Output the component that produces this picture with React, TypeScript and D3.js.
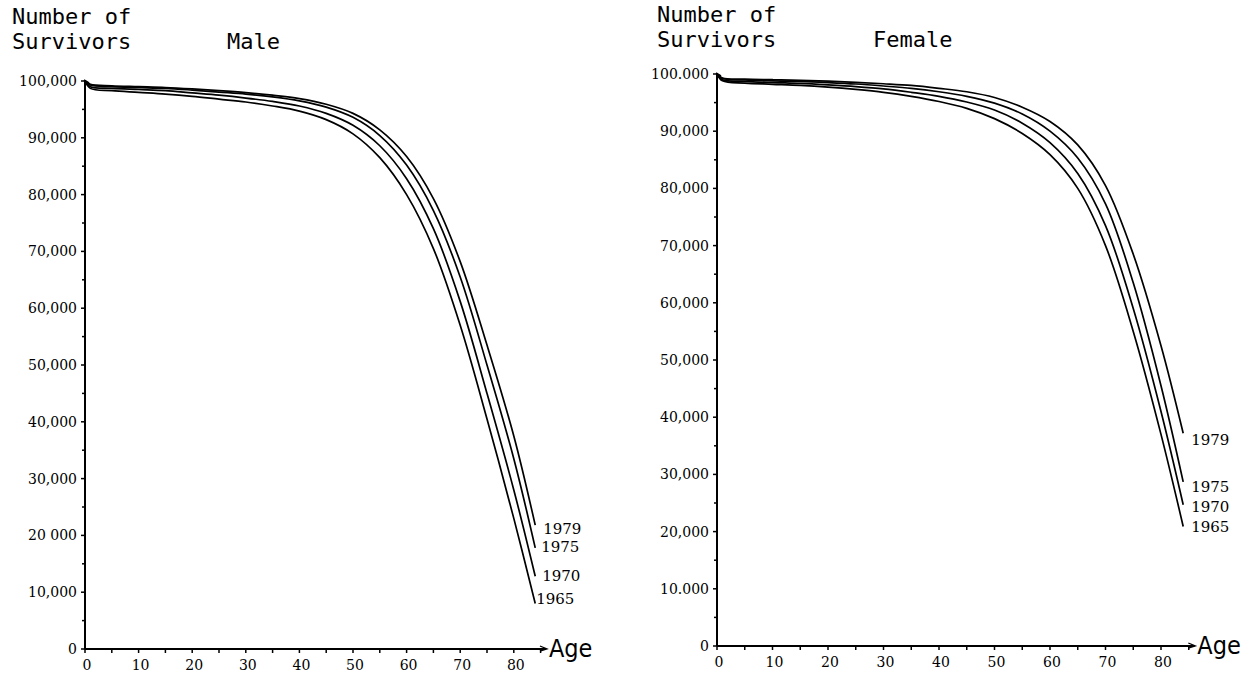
import React from "react";
import * as d3 from "d3";

// ages at which the life-table values are read
const ages = [0, 1, 5, 10, 15, 20, 25, 30, 35, 40, 45, 50, 55, 60, 65, 70, 75, 80, 84];
const years = ["1965", "1970", "1975", "1979"];

// male survivors (per 100,000 born)
const male1965 = [100000, 98700, 98300, 98000, 97700, 97300, 96800, 96300, 95600, 94700, 93200, 90700, 86500, 80000, 70500, 57000, 40500, 23000, 8000];
const male1970 = [100000, 99000, 98700, 98500, 98300, 97900, 97500, 97000, 96400, 95600, 94300, 92200, 88600, 82800, 74000, 61200, 45000, 28000, 12800];
const male1975 = [100000, 99300, 99000, 98850, 98700, 98400, 98050, 97700, 97200, 96500, 95400, 93600, 90400, 85200, 77200, 65500, 50000, 33500, 17800];
const male1979 = [100000, 99400, 99150, 99000, 98850, 98600, 98300, 97950, 97500, 96900, 95900, 94300, 91400, 86700, 79300, 68200, 53500, 37500, 21800];

// female survivors
const female1965 = [100000, 98800, 98400, 98200, 98000, 97700, 97300, 96800, 96100, 95200, 94000, 92200, 89600, 85900, 80000, 70000, 55000, 37000, 20900];
const female1970 = [100000, 99000, 98700, 98500, 98350, 98100, 97800, 97400, 96800, 96100, 95100, 93700, 91400, 88000, 82600, 73500, 59000, 41000, 24700];
const female1975 = [100000, 99200, 98950, 98800, 98700, 98500, 98250, 97900, 97500, 96900, 96100, 94900, 93000, 90000, 85300, 77300, 63500, 45500, 28700];
const female1979 = [100000, 99300, 99100, 99000, 98900, 98750, 98550, 98300, 98000, 97500, 96900, 95900, 94200, 91700, 87600, 80500, 68500, 52500, 37200];

const maleYLabels = ["0", "10,000", "20 000", "30,000", "40,000", "50,000", "60,000", "70,000", "80,000", "90,000", "100,000"];
const femaleYLabels = ["0", "10.000", "20,000", "30,000", "40,000", "50,000", "60,000", "70,000", "80,000", "90,000", "100.000"];
const xTickLabels = ["0", "10", "20", "30", "40", "50", "60", "70", "80"];

const serif = "'DejaVu Serif', 'Liberation Serif', serif";
const mono = "'DejaVu Sans Mono', 'Liberation Mono', monospace";

function Panel(props: any) {
  const { x0, perYear, y0, y100, series, yLabels, title, titleX, titleY, labelOffsets } = props;
  const x = d3.scaleLinear().domain([0, 86]).range([x0, x0 + 86 * perYear]);
  const y = d3.scaleLinear().domain([0, 100000]).range([y0, y100]);
  const line = d3.line<number>()
    .x((d, i) => x(ages[i]))
    .y(d => y(d))
    .curve(d3.curveCatmullRom.alpha(0.5));

  const yTicks = d3.range(0, 100001, 5000);
  const xTicks = d3.range(0, 86, 5);
  const last = ages.length - 1;
  const xEnd = x(86);

  return (
    <g>
      <text x={titleX} y={titleY} fontFamily={mono} fontSize={22}>Number of</text>
      <text x={titleX} y={titleY + 25} fontFamily={mono} fontSize={22}>Survivors</text>
      <text x={titleX + title.dx} y={titleY + 25} fontFamily={mono} fontSize={22}>{title.text}</text>

      {/* axes */}
      <line x1={x0} x2={x0} y1={y0} y2={y100 - 1} stroke="#000" strokeWidth={2} />
      <line x1={x0 - 1} x2={x0 + 4} y1={y100 - 1} y2={y100 + 2} stroke="#000" strokeWidth={1.5} />
      <line x1={x0} x2={xEnd} y1={y0} y2={y0} stroke="#000" strokeWidth={2} />
      <path d={`M${xEnd - 6},${y0 - 3}L${xEnd + 1},${y0}L${xEnd - 6},${y0 + 2}`} fill="none" stroke="#000" strokeWidth={1.3} />
      <text x={xEnd + 3} y={y0 + 8} fontFamily="'DejaVu Sans Condensed', 'Liberation Sans Narrow', sans-serif" fontSize={25}>Age</text>

      {yTicks.map(v => (
        <line key={"yt" + v} x1={x0 - (v % 10000 === 0 ? 4 : 3)} x2={x0} y1={y(v)} y2={y(v)} stroke="#000" strokeWidth={1.5} />
      ))}
      {yLabels.map((s: string, i: number) => (
        <text key={"yl" + i} x={x0 - 8} y={y(i * 10000) + 5} textAnchor="end" fontFamily={serif} fontSize={14}>{s}</text>
      ))}
      {xTicks.map(v => (
        <line key={"xt" + v} x1={x(v)} x2={x(v)} y1={y0} y2={y0 + 4} stroke="#000" strokeWidth={1.5} />
      ))}
      {xTickLabels.map((s, i) => (
        <text key={"xl" + i} x={x(i * 10) + 2} y={y0 + 21} textAnchor="middle" fontFamily={serif} fontSize={14}>{s}</text>
      ))}

      {series.map((vals: number[], k: number) => (
        <path key={"s" + k} d={line(vals) || ""} fill="none" stroke="#000" strokeWidth={1.7} />
      ))}
      {series.map((vals: number[], k: number) => (
        <text key={"lab" + k} x={x(ages[last]) + labelOffsets[k][0]} y={y(vals[last]) + labelOffsets[k][1]}
          fontFamily={serif} fontSize={15}>{years[k]}</text>
      ))}
    </g>
  );
}

export default function App() {
  return (
    <svg width={1246} height={678} style={{ position: "absolute", left: 0, top: 0, background: "#fff" }}>
      <rect width={1246} height={678} fill="#fff" />
      <Panel
        x0={85} perYear={5.36} y0={649} y100={81}
        series={[male1965, male1970, male1975, male1979]}
        yLabels={maleYLabels}
        title={{ text: "Male", dx: 215 }}
        titleX={12} titleY={24}
        labelOffsets={[[1, 0], [7, 5], [6, 4], [8, 9]]}
      />
      <Panel
        x0={717} perYear={5.55} y0={646} y100={74}
        series={[female1965, female1970, female1975, female1979]}
        yLabels={femaleYLabels}
        title={{ text: "Female", dx: 216 }}
        titleX={657} titleY={22}
        labelOffsets={[[8, 6], [8, 7], [8, 10], [8, 12]]}
      />
    </svg>
  );
}
